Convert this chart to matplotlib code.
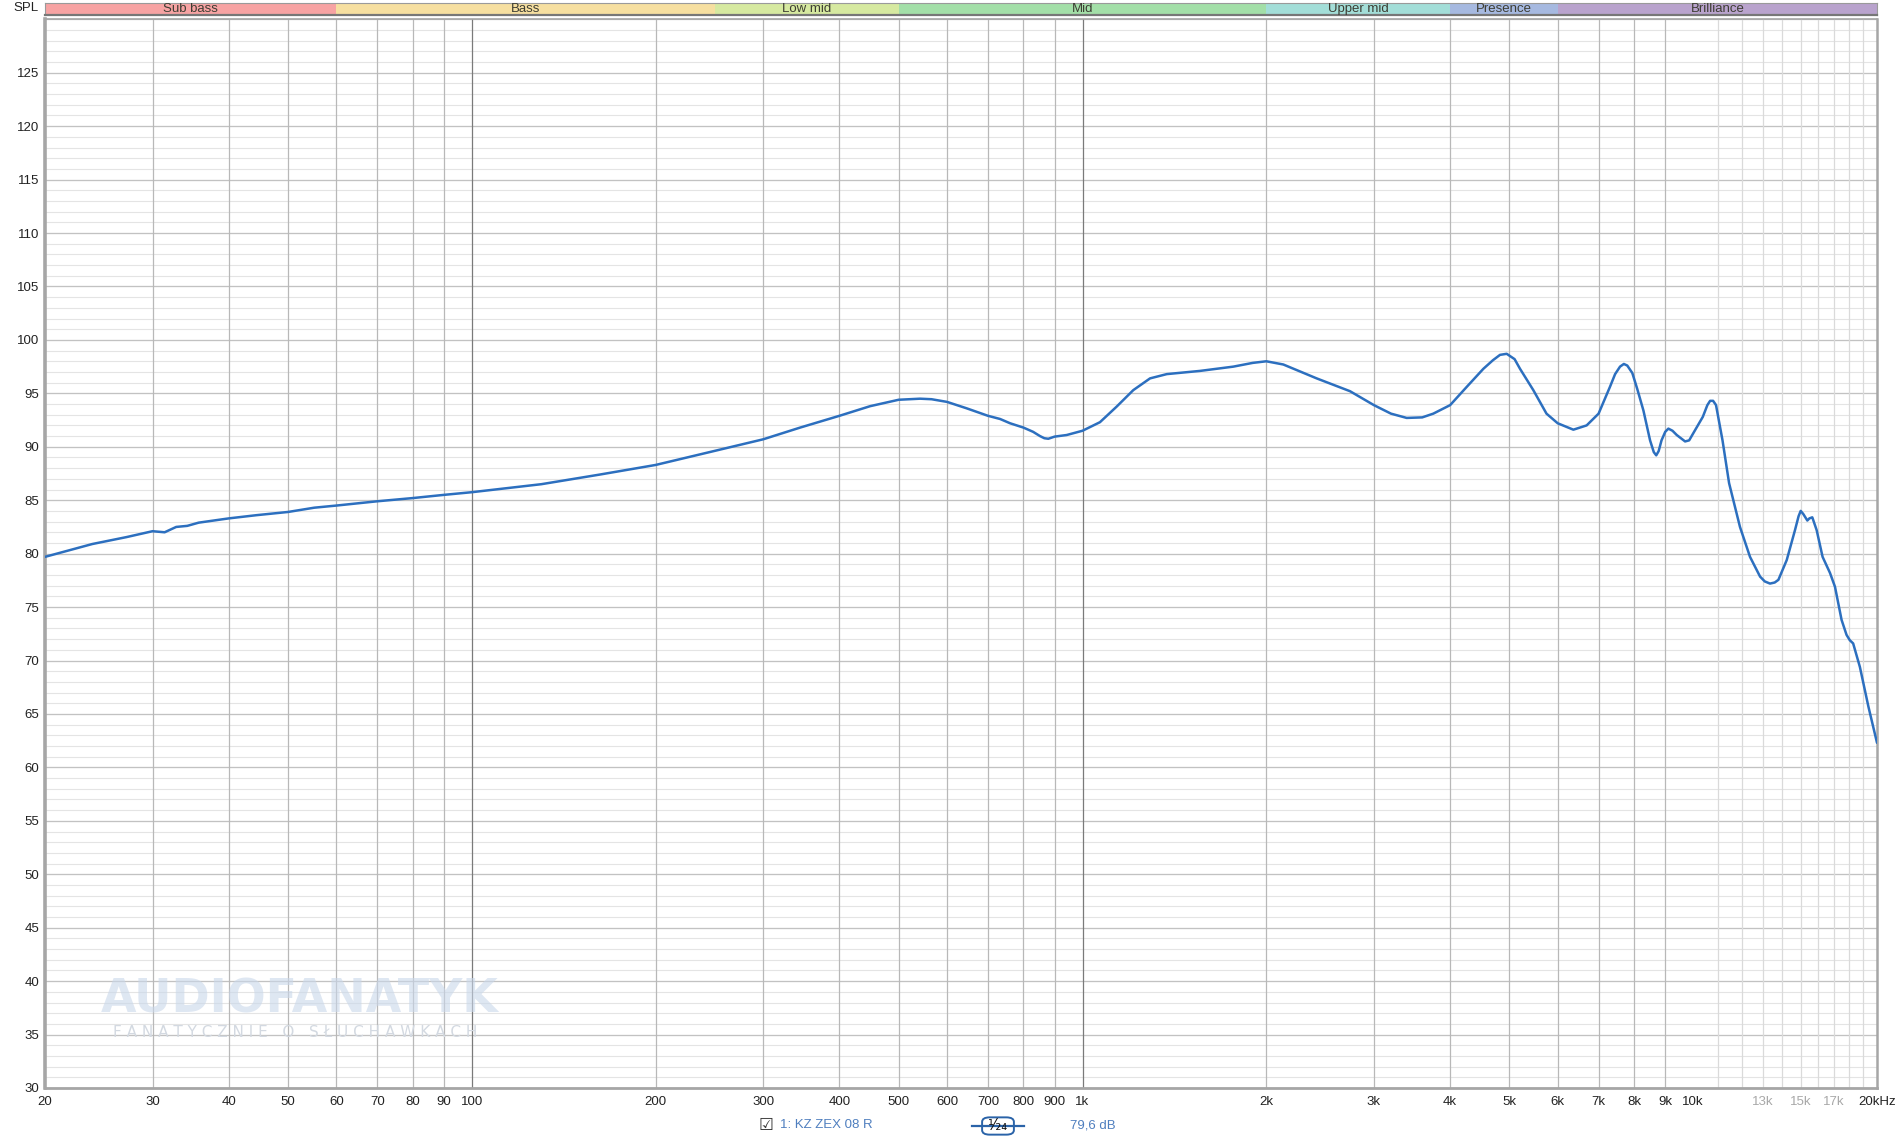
import matplotlib

matplotlib.use("Agg")
import matplotlib.pyplot as plt
from matplotlib.lines import Line2D
from matplotlib.patches import FancyBboxPatch
import numpy as np

plt.rcParams["font.family"] = ["Liberation Sans Narrow", "Liberation Sans", "DejaVu Sans"]

freq_hz = [
    20, 23.9, 27.2, 30, 31.4, 32.8, 34.2, 35.7, 40, 44.4, 50, 55.2, 60, 70, 80, 90,
    100, 130, 162, 200, 245, 300, 345, 400, 449, 500, 542, 566, 600, 646, 700, 733,
    761, 800, 830, 852, 866, 879, 900, 942, 1000, 1068, 1137, 1211, 1290, 1374, 1558,
    1766, 1900, 2000, 2132, 2418, 2742, 3000, 3200, 3395, 3600, 3753, 4000, 4257, 4534,
    4700, 4827, 4950, 5100, 5205, 5473, 5752, 6000, 6365, 6692, 7000, 7306, 7450, 7590,
    7700, 7800, 7950, 8100, 8289, 8500, 8620, 8700, 8780, 8875, 9000, 9107, 9250, 9400,
    9700, 9850, 10000, 10370, 10550, 10660, 10780, 10900, 11170, 11450, 11930,
    12390, 12870, 13100, 13360, 13600, 13790, 14230, 14680, 14880, 15000, 15150, 15380,
    15500, 15670, 15930, 16290, 16750, 17070, 17500, 17830, 18050, 18280, 18750, 19360,
    20000,
]
spl_db = [
    79.7, 80.9, 81.55, 82.1, 82.0, 82.5, 82.6, 82.9, 83.3, 83.6, 83.9, 84.3, 84.5, 84.9, 85.2, 85.5,
    85.75, 86.5, 87.4, 88.3, 89.5, 90.7, 91.8, 92.9, 93.8, 94.4, 94.5, 94.45, 94.2, 93.6, 92.9, 92.6,
    92.2, 91.8, 91.4, 91.0, 90.8, 90.75, 90.95, 91.1, 91.5, 92.3, 93.75, 95.3, 96.4, 96.8, 97.1,
    97.5, 97.85, 98.0, 97.7, 96.4, 95.2, 93.9, 93.1, 92.7, 92.75, 93.1, 93.9, 95.6, 97.3,
    98.1, 98.6, 98.7, 98.2, 97.3, 95.3, 93.1, 92.2, 91.6, 92.0, 93.1, 95.6, 96.8, 97.5,
    97.75, 97.6, 96.9, 95.4, 93.4, 90.6, 89.5, 89.2, 89.6, 90.6, 91.4, 91.7, 91.5, 91.1,
    90.5, 90.6, 91.25, 92.8, 93.9, 94.3, 94.3, 93.9, 90.6, 86.6, 82.5,
    79.7, 77.85, 77.4, 77.2, 77.3, 77.55, 79.4, 82.2, 83.5, 84.0, 83.7, 83.1,
    83.3, 83.4, 82.2, 79.7, 78.2, 76.9, 73.8, 72.4, 71.9, 71.6, 69.4, 65.7,
    62.3,
]

band_names = ["Sub bass", "Bass", "Low mid", "Mid", "Upper mid", "Presence", "Brilliance"]
band_edges = [20, 60, 250, 500, 2000, 4000, 6000, 20000]
band_colors = ["#f7a3a3", "#f6dfa0", "#d6e9a0", "#a3dfa8", "#a3ded8", "#a6b9e0", "#b9a3cd"]

x_tick_freqs = [20, 30, 40, 50, 60, 70, 80, 90, 100, 200, 300, 400, 500, 600, 700, 800, 900,
                1000, 2000, 3000, 4000, 5000, 6000, 7000, 8000, 9000, 10000, 13000, 15000,
                17000, 20000]
x_tick_labels = ["20", "30", "40", "50", "60", "70", "80", "90", "100", "200", "300", "400",
                 "500", "600", "700", "800", "900", "1k", "2k", "3k", "4k", "5k", "6k", "7k",
                 "8k", "9k", "10k", "13k", "15k", "17k", "20kHz"]
faint_labels = ["13k", "15k", "17k"]
y_ticks = list(range(30, 130, 5))

trace_name = "1: KZ ZEX 08 R"
smoothing = "¹⁄₂₄"
level_text = "79,6 dB"

W, H = 1900, 1140
fig = plt.figure(figsize=(W / 100, H / 100), dpi=100)
fig.patch.set_facecolor("white")

left, right = 45, 1877
bottom, top = 1088, 19.3
ax = fig.add_axes([left / W, 1 - bottom / H, (right - left) / W, (bottom - top) / H])
ax.set_xscale("log")
ax.set_xlim(20, 20000)
ax.set_ylim(30, 130)
ax.set_facecolor("white")

# grid: 1 dB minor, 5 dB major
for v in range(31, 130):
    ax.axhline(v, color="#e4e4e4", lw=0.8, zorder=0)
for v in range(30, 131, 5):
    ax.axhline(v, color="#c2c2c2", lw=0.9, zorder=0.5)

for dec in (10, 100, 1000):
    for m in range(1, 10):
        f = dec * m
        if f <= 20 or f > 10000:
            continue
        col = "#7a7a7a" if m == 1 else "#b8b8b8"
        ax.axvline(f, color=col, lw=0.9, zorder=0.6)
for f in range(11000, 20000, 1000):
    ax.axvline(f, color="#dadada", lw=0.9, zorder=0.6)

# watermark
ax.text(0.0305, 0.082, "AUDIOFANATYK", transform=ax.transAxes, fontsize=33,
        family="DejaVu Sans", weight="bold", color="#c9d7ea", alpha=0.6,
        ha="left", va="center", zorder=1)
tagline = "   ".join(" ".join(word) for word in "FANATYCZNIE O SŁUCHAWKACH".split(" "))
ax.text(0.0372, 0.052, tagline, transform=ax.transAxes, fontsize=11,
        family="DejaVu Sans", color="#d3d9e1", ha="left", va="center", zorder=1)

ax.plot(freq_hz, spl_db, color="#2c6fbf", lw=1.8, zorder=3,
        solid_capstyle="round", solid_joinstyle="round")

ax.set_xticks(x_tick_freqs, x_tick_labels)
ax.xaxis.set_minor_locator(matplotlib.ticker.NullLocator())
ax.set_yticks(y_ticks, [str(v) for v in y_ticks])
ax.tick_params(axis="both", length=0, labelsize=9.5, colors="#222222")
ax.tick_params(axis="x", pad=6)
ax.tick_params(axis="y", pad=4)
for lbl in ax.get_xticklabels():
    if lbl.get_text() in faint_labels:
        lbl.set_color("#a8a8a8")

for side in ("left", "bottom", "right", "top"):
    ax.spines[side].set_color("#a6a6a6")
ax.spines["left"].set_linewidth(2.6)
ax.spines["bottom"].set_linewidth(2.0)
ax.spines["right"].set_linewidth(1.8)
ax.spines["top"].set_linewidth(1.2)

# frequency band strip at the top
bax = fig.add_axes([left / W, 1 - 15 / H, (right - left) / W, 12 / H])
bax.set_xscale("log")
bax.set_xlim(20, 20000)
bax.set_ylim(0, 1)
for name, lo, hi, col in zip(band_names, band_edges[:-1], band_edges[1:], band_colors):
    bax.axvspan(lo, hi, color=col, lw=0)
    bax.text(np.sqrt(lo * hi), 0.48, name, ha="center", va="center", fontsize=9.5,
             color="#3d3d33")
bax.set_xticks([])
bax.set_yticks([])
bax.xaxis.set_minor_locator(matplotlib.ticker.NullLocator())
for side in ("left", "right", "top"):
    bax.spines[side].set_color("#9a9a9a")
    bax.spines[side].set_linewidth(0.8)
bax.spines["bottom"].set_color("#777777")
bax.spines["bottom"].set_linewidth(1.6)

fig.text(26 / W, 1 - 8 / H, "SPL", ha="center", va="center", fontsize=9.5, color="#222222")

# legend row under the plot
fig.text(766 / W, 1 - 1125 / H, "☑", family="DejaVu Sans", fontsize=12,
         ha="center", va="center", color="#333333")
fig.text(780 / W, 1 - 1125 / H, trace_name, ha="left", va="center", fontsize=9.5,
         color="#4f7fbf")
yb = 1 - 1126 / H
fig.add_artist(Line2D([972 / W, 1024 / W], [yb, yb], color="#2a63a8", lw=1.6))
fig.add_artist(FancyBboxPatch((984 / W, yb - 7.5 / H), 28 / W, 15 / H,
                              boxstyle="round,pad=0.001,rounding_size=0.004",
                              transform=fig.transFigure, facecolor="white",
                              edgecolor="#2a63a8", lw=1.4))
fig.text(998 / W, yb, smoothing, family="DejaVu Sans", ha="center", va="center",
         fontsize=10.5, color="#111111")
fig.text(1070 / W, 1 - 1125 / H, level_text, ha="left", va="center", fontsize=9.5,
         color="#4f7fbf")

fig.savefig("out.png", dpi=100, facecolor="white")
